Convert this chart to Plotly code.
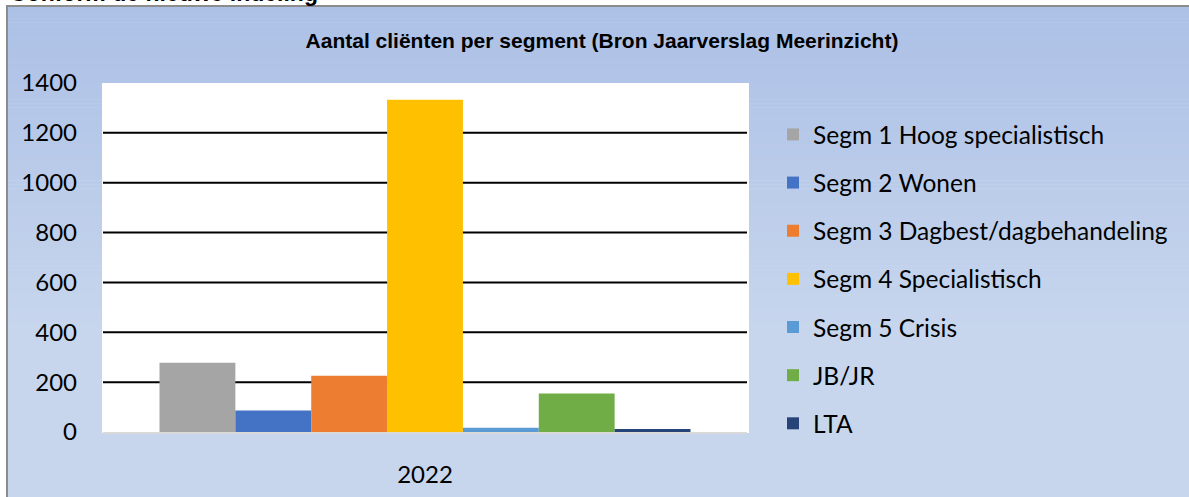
import plotly.graph_objects as go

# Aantal cliënten per segment, jaar 2022
years = ["2022"]
segments = [
    "Segm 1 Hoog specialistisch",
    "Segm 2 Wonen",
    "Segm 3 Dagbest/dagbehandeling",
    "Segm 4 Specialistisch",
    "Segm 5 Crisis",
    "JB/JR",
    "LTA",
]
clients = [278, 86, 226, 1333, 17, 154, 12]
colors = ["#a5a5a5", "#4472c4", "#ed7d31", "#ffc000", "#5b9bd5", "#70ad47", "#264478"]

y_ticks = [0, 200, 400, 600, 800, 1000, 1200, 1400]
grid_values = [200, 400, 600, 800, 1000, 1200]

W, H = 1189, 497

def px_x(p):
    return p / W

def px_y(p):
    return 1 - p / H

fig = go.Figure()
for i, (name, val, col) in enumerate(zip(segments, clients, colors)):
    fig.add_trace(go.Bar(
        x=years, y=[val], name=name, marker=dict(color=col, line=dict(width=0)),
        legendgroup=f"g{i}",
    ))

shapes = []
# vertical gradient of the chart area background
top_rgb = (172, 192, 230)
bot_rgb = (199, 214, 237)
g_top, g_bot = 6, 330
n_bands = 80
for k in range(n_bands):
    y0 = g_top + (g_bot - g_top) * k / n_bands
    y1 = g_top + (g_bot - g_top) * (k + 1) / n_bands + 0.6
    t = (k + 0.5) / n_bands
    c = tuple(round(a + (b - a) * t) for a, b in zip(top_rgb, bot_rgb))
    shapes.append(dict(type="rect", xref="paper", yref="paper", layer="below",
                       x0=px_x(7), x1=1.01, y0=px_y(y1), y1=px_y(y0),
                       fillcolor=f"rgb{c}", line=dict(width=0)))
shapes.append(dict(type="rect", xref="paper", yref="paper", layer="below",
                   x0=px_x(7), x1=1.01, y0=-0.01, y1=px_y(g_bot),
                   fillcolor=f"rgb{bot_rgb}", line=dict(width=0)))
# white plot area
shapes.append(dict(type="rect", xref="paper", yref="paper", layer="below",
                   x0=px_x(102), x1=px_x(749), y0=px_y(433), y1=px_y(83),
                   fillcolor="white", line=dict(width=0)))
# chart frame
shapes.append(dict(type="rect", xref="paper", yref="paper", layer="below",
                   x0=px_x(7), x1=1.02, y0=-0.02, y1=px_y(6),
                   fillcolor="rgba(0,0,0,0)", line=dict(color="#8c8c8c", width=2)))
# horizontal gridlines
for v in grid_values:
    shapes.append(dict(type="line", xref="x domain", yref="y", layer="below",
                       x0=0, x1=1, y0=v, y1=v, line=dict(color="black", width=2)))

fig.update_layout(
    width=W, height=H,
    margin=dict(l=0, r=0, t=0, b=0, autoexpand=False),
    paper_bgcolor="white",
    plot_bgcolor="rgba(0,0,0,0)",
    barmode="group",
    bargap=0.1755,
    bargroupgap=0,
    shapes=shapes,
    font=dict(family="Lato", color="black"),
    title=dict(
        text="Aantal cliënten per segment (Bron Jaarverslag Meerinzicht)",
        font=dict(family="Liberation Sans, Arial", size=21, weight="bold", color="black"),
        x=px_x(602), xanchor="center", y=px_y(41), yanchor="middle",
        xref="paper", yref="paper",
    ),
    xaxis=dict(
        domain=[px_x(103), px_x(747)],
        type="category",
        showgrid=False,
        showline=True, linecolor="#d9d9d9", linewidth=2,
        ticks="",
        tickfont=dict(family="Lato", size=24, color="black"),
        ticklabelstandoff=20,
    ),
    yaxis=dict(
        domain=[px_y(432), px_y(83)],
        range=[0, 1400],
        tickvals=y_ticks,
        showgrid=False,
        zeroline=False,
        showline=False,
        ticks="",
        tickfont=dict(family="Lato", size=24, color="black"),
        ticklabelstandoff=25,
    ),
    legend=dict(
        x=px_x(773), xanchor="left",
        y=px_y(112), yanchor="top",
        bgcolor="rgba(0,0,0,0)",
        font=dict(family="Lato", size=24.5, color="black"),
        tracegroupgap=13.3,
        traceorder="grouped",
    ),
    annotations=[
        dict(text="<b>Conform de nieuwe indeling</b>", xref="paper", yref="paper",
             x=px_x(8), xanchor="left", y=px_y(7.5), yanchor="bottom",
             showarrow=False,
             font=dict(family="Liberation Sans, Arial", size=23, color="black")),
    ],
)

fig.write_html("out.html")
